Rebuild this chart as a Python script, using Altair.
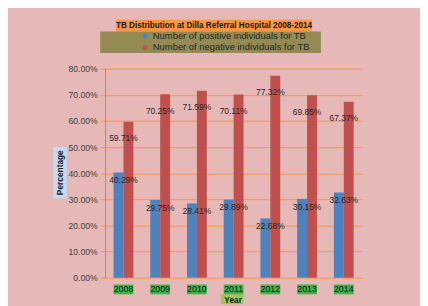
import altair as alt
import pandas as pd

years = ["2008", "2009", "2010", "2011", "2012", "2013", "2014"]
positive = [40.29, 29.75, 28.41, 29.89, 22.68, 30.15, 32.63]
negative = [59.71, 70.25, 71.59, 70.11, 77.32, 69.85, 67.37]
series = ["Number of positive individuals  for TB", "Number of negative individuals for TB"]
y_ticks = [0, 0.1, 0.2, 0.3, 0.4, 0.5, 0.6, 0.7, 0.8]
title_text = "TB Distribution at Dilla Referral Hospital 2008-2014"
y_title = "Percentage"

FONT = "Liberation Sans"

rows = []
for i, yr in enumerate(years):
    rows.append({"year": yr, "series": series[0], "value": positive[i] / 100})
    rows.append({"year": yr, "series": series[1], "value": negative[i] / 100})
df = pd.DataFrame(rows)
df_pos = df[df.series == series[0]]
df_neg = df[df.series == series[1]]
df_years = pd.DataFrame({"year": years})
one = pd.DataFrame({"t": [title_text], "yt": [y_title]})

xscale = alt.Scale(domain=years, range=[0, 262], paddingInner=0.46, paddingOuter=0.23)
yscale = alt.Scale(domain=[0, 0.8])

x_axis = alt.Axis(title="Year", labelAngle=0, domain=False, ticks=False, tickSize=0,
                  labelPadding=7, labelFontSize=9, labelColor="#1a1a1a", labelFont=FONT,
                  labelBaseline="top",
                  titleFontSize=8.5, titleFont=FONT, titleColor="#1a1a1a", titleFontWeight="bold",
                  titleX=130, titleY=22, titleBaseline="middle", grid=False)
y_axis = alt.Axis(title=None, values=y_ticks, format=".2%", grid=True, labelOverlap=False,
                  gridColor="#F79646", gridWidth=1, domainColor="#9a8a8a",
                  tickColor="#F79646", tickSize=5, labelFontSize=8.8, labelColor="#404040",
                  labelFont=FONT, labelPadding=3)


def X():
    return alt.X("year:N", scale=xscale, sort=years, axis=x_axis)


def Y():
    return alt.Y("value:Q", scale=yscale, axis=y_axis)


title_box = alt.Chart(one).mark_rect(color="#F79646").encode(
    x=alt.value(11), x2=alt.value(211), y=alt.value(-50), y2=alt.value(-38))
legend_box = alt.Chart(one).mark_rect(color="#948A54").encode(
    x=alt.value(-5), x2=alt.value(220), y=alt.value(-38), y2=alt.value(-16))
ytitle_box = alt.Chart(one).mark_rect(color="#C5D9F1").encode(
    x=alt.value(-53), x2=alt.value(-39), y=alt.value(80), y2=alt.value(132))
xtitle_box = alt.Chart(one).mark_rect(color="#9BC85A").encode(
    x=alt.value(118), x2=alt.value(141), y=alt.value(230), y2=alt.value(240))
title_mark = alt.Chart(one).mark_text(font=FONT, fontSize=8.3, fontWeight="bold", color="#1a1a1a",
                                      baseline="middle", align="center").encode(
    text="t:N", x=alt.value(111), y=alt.value(-44))
ytitle_mark = alt.Chart(one).mark_text(font=FONT, fontSize=8.5, fontWeight="bold", color="#1a1a1a",
                                       baseline="middle", align="center", angle=270).encode(
    text="yt:N", x=alt.value(-46), y=alt.value(106))

year_boxes = alt.Chart(df_years).mark_rect(color="#3CB44B").encode(
    x=X(), y=alt.value(220), y2=alt.value(230))

bars = alt.Chart(df).mark_bar().encode(
    x=X(),
    xOffset=alt.XOffset("series:N", sort=series, scale=alt.Scale(paddingInner=0)),
    y=Y(),
    color=alt.Color("series:N", sort=series,
                    scale=alt.Scale(domain=series, range=["#4F81BD", "#C0504D"]),
                    legend=alt.Legend(orient="none", legendX=36, legendY=-38, title=None,
                                      symbolType="square", symbolSize=22, symbolStrokeWidth=0,
                                      labelFontSize=9.6, labelColor="#262626", labelFont=FONT,
                                      rowPadding=0.5, padding=0, labelOffset=3)),
)

pos_text = alt.Chart(df_pos).mark_text(font=FONT, fontSize=8.6, color="#262626", dy=8, baseline="middle").encode(
    x=X(), y=Y(), text=alt.Text("value:Q", format=".2%"))
neg_text = alt.Chart(df_neg).mark_text(font=FONT, fontSize=8.6, color="#262626", dy=17, baseline="middle").encode(
    x=X(), y=Y(), text=alt.Text("value:Q", format=".2%"))

chart = alt.layer(title_box, legend_box, ytitle_box, xtitle_box, title_mark, ytitle_mark, year_boxes,
                  bars, pos_text, neg_text).properties(
    width=270, height=213, background="#E6B9B8",
    padding={"left": 99, "top": 59, "right": 51, "bottom": 26},
    autosize=alt.AutoSizeParams(type="none"),
).configure_view(strokeWidth=0)

chart.save("out.html", embed_options={"renderer": "svg", "actions": False})
